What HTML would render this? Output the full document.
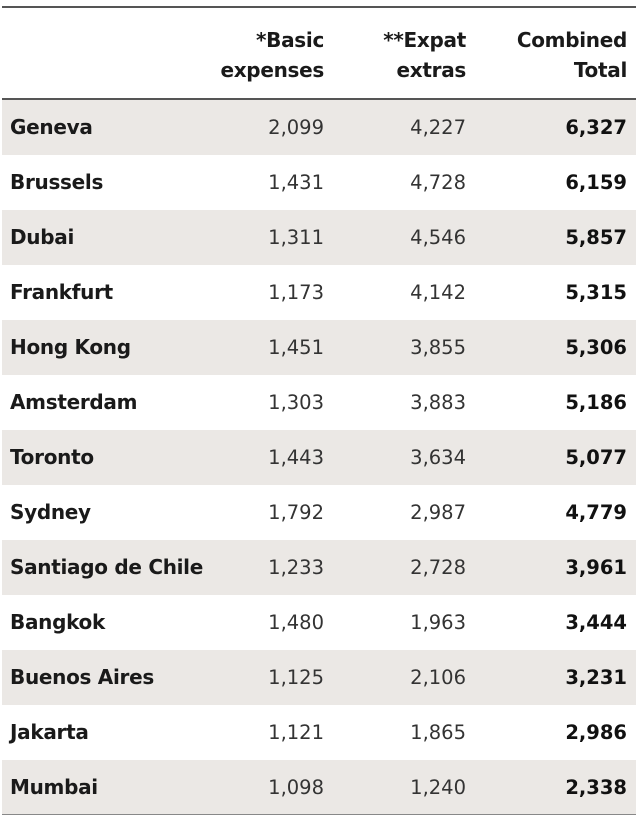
<!DOCTYPE html>
<html><head><meta charset="utf-8"><style>
body{margin:0;width:640px;height:820px;background:#fff;font-family:"DejaVu Sans","Liberation Sans",sans-serif;color:#1a1a1a;position:relative;overflow:hidden}
.line{position:absolute;left:2px;width:634px;background:#555}
.row{position:absolute;left:2px;width:634px;height:55px}
.row.sh{background:#ebe8e5}
.c{position:absolute;top:0;line-height:55px;font-size:20px;white-space:nowrap}
.n{left:8px;font-weight:bold;letter-spacing:-0.3px}
.v{text-align:right;color:#333;font-size:19.5px}
.h{position:absolute;font-size:20px;font-weight:bold;text-align:right;line-height:30px;white-space:nowrap;letter-spacing:-0.3px}
</style></head><body>
<div class="line" style="top:6px;height:2px"></div>
<div class="h" style="right:316px;top:25px">*Basic<br>expenses</div>
<div class="h" style="right:174px;top:25px">**Expat<br>extras</div>
<div class="h" style="right:13px;top:25px">Combined<br>Total</div>
<div class="line" style="top:98px;height:2px"></div>
<div id="rows"></div>
<div class="line" style="top:814px;height:1px;background:#888"></div>
<script>
const cities=["Geneva","Brussels","Dubai","Frankfurt","Hong Kong","Amsterdam","Toronto","Sydney","Santiago de Chile","Bangkok","Buenos Aires","Jakarta","Mumbai"];
const basic=[2099,1431,1311,1173,1451,1303,1443,1792,1233,1480,1125,1121,1098];
const extras=[4227,4728,4546,4142,3855,3883,3634,2987,2728,1963,2106,1865,1240];
const totals=[6327,6159,5857,5315,5306,5186,5077,4779,3961,3444,3231,2986,2338];
const fmt=v=>v.toLocaleString('en-US');
const host=document.getElementById('rows');
cities.forEach((c,i)=>{
  const r=document.createElement('div');
  r.className='row'+(i%2===0?' sh':'');
  r.style.top=(100+i*55)+'px';
  
  
  const mk=(cls,txt,style,name)=>{const d=document.createElement('div');d.className='c '+cls;d.textContent=txt;d.setAttribute('style',style);
    
    
    r.appendChild(d);};
  mk('n',c,'','city-name');
  mk('v',fmt(basic[i]),'right:312px','basic-expenses-value');
  mk('v',fmt(extras[i]),'right:170px','expat-extras-value');
  mk('v',fmt(totals[i]),'right:9px;font-weight:bold;color:#111','combined-total-value');
  host.appendChild(r);
});
</script>
</body></html>
